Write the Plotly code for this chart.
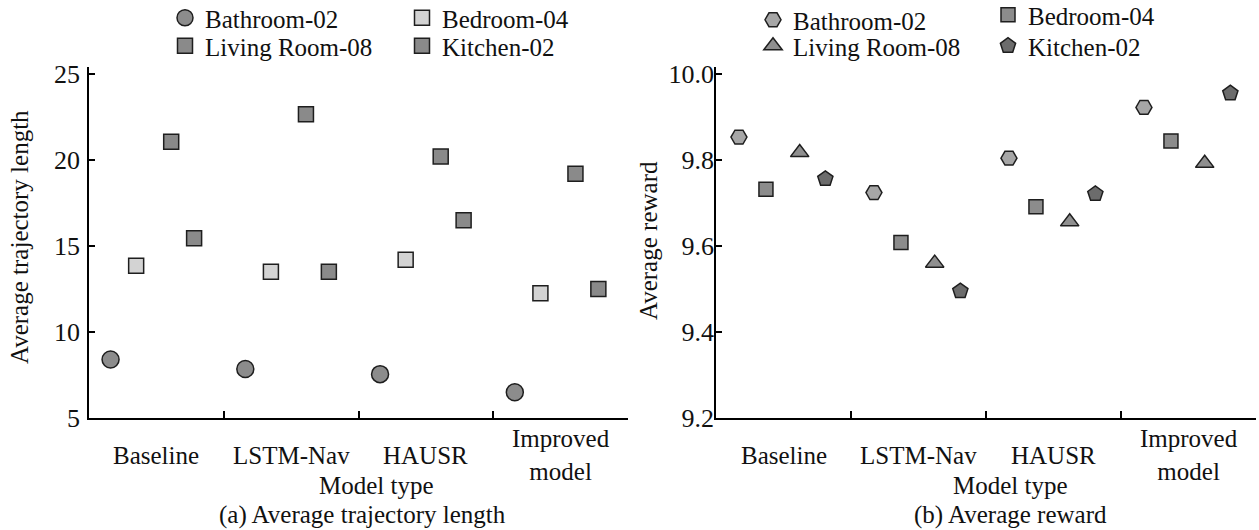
import plotly.graph_objects as go

# ---------------- data ----------------
models = ["Baseline", "LSTM-Nav", "HAUSR", "Improved<br>model"]
series = ["Bathroom-02", "Bedroom-04", "Living Room-08", "Kitchen-02"]

traj_bathroom = [8.4, 7.85, 7.55, 6.5]
traj_bedroom = [13.85, 13.5, 14.2, 12.25]
traj_living = [21.05, 22.65, 20.2, 19.2]
traj_kitchen = [15.45, 13.5, 16.5, 12.5]

rew_bathroom = [9.853, 9.724, 9.804, 9.922]
rew_bedroom = [9.732, 9.608, 9.691, 9.844]
rew_living = [9.817, 9.560, 9.656, 9.792]
rew_kitchen = [9.756, 9.495, 9.721, 9.955]

left_ticks = [5, 10, 15, 20, 25]
right_ticks = [9.2, 9.4, 9.6, 9.8, 10.0]
right_ticktext = ["9.2", "9.4", "9.6", "9.8", "10.0"]

# ---------------- style ----------------
W, H = 1259, 530
FONT = "Liberation Serif"
FS = 25
TFS = 26
EDGE = "#1e1e1e"
TXT = "#111111"

left_off = [0.16, 0.35, 0.61, 0.78]
right_off = [0.17, 0.37, 0.62, 0.81]

left_style = [
    dict(symbol="circle", size=17, color="#8c8c8c"),
    dict(symbol="square", size=15, color="#d3d3d3"),
    dict(symbol="square", size=15, color="#8a8a8a"),
    dict(symbol="square", size=15, color="#8a8a8a"),
]
right_style = [
    dict(symbol="hexagon2", size=16, color="#a6a6a6"),
    dict(symbol="square", size=14, color="#8c8c8c"),
    dict(symbol="triangle-up", size=16, color="#8f8f8f"),
    dict(symbol="pentagon", size=16, color="#6c6c6c"),
]

# legend item text start / centre line (px)
left_leg_pos = [(205, 18), (442, 18), (205, 46), (442, 46)]
right_leg_pos = [(793, 20), (1028, 15), (793, 46), (1028, 46)]


def px(xp):
    return xp / W


def py(yp):
    return 1 - yp / H


fig = go.Figure()

left_data = [traj_bathroom, traj_bedroom, traj_living, traj_kitchen]
right_data = [rew_bathroom, rew_bedroom, rew_living, rew_kitchen]

for k, (name, vals) in enumerate(zip(series, left_data)):
    st = left_style[k]
    fig.add_trace(go.Scatter(
        x=[i + left_off[k] for i in range(len(models))], y=vals,
        mode="markers", name=name, xaxis="x", yaxis="y", showlegend=True,
        legend="legend" if k == 0 else f"legend{k + 1}",
        marker=dict(symbol=st["symbol"], size=st["size"], color=st["color"],
                    line=dict(color=EDGE, width=1.5)),
    ))

for k, (name, vals) in enumerate(zip(series, right_data)):
    st = right_style[k]
    fig.add_trace(go.Scatter(
        x=[i + right_off[k] for i in range(len(models))], y=vals,
        mode="markers", name=name, xaxis="x2", yaxis="y2", showlegend=True,
        legend=f"legend{k + 5}",
        marker=dict(symbol=st["symbol"], size=st["size"], color=st["color"],
                    line=dict(color=EDGE, width=1.5)),
    ))

axis_common = dict(showline=True, linecolor="black", linewidth=1.5, showgrid=False,
                   zeroline=False, ticks="inside", tickcolor="black", tickwidth=1.5,
                   automargin=False)

ydom = [py(418), py(67)]
xd1 = [px(89), px(628)]
xd2 = [px(716), px(1256)]

layout = dict(
    width=W, height=H, margin=dict(l=0, r=0, t=0, b=0, autoexpand=False),
    paper_bgcolor="white", plot_bgcolor="white", showlegend=True,
    font=dict(family=FONT, size=FS, color=TXT),
    xaxis=dict(domain=xd1, range=[0, 4], tickvals=[0, 1, 2, 3, 4], ticklen=7,
               showticklabels=False, anchor="y", **axis_common),
    yaxis=dict(domain=ydom, range=[5, 25.4], tickvals=left_ticks, ticklen=6,
               ticklabelstandoff=2, tickfont=dict(family=FONT, size=TFS, color=TXT),
               anchor="x", **axis_common),
    xaxis2=dict(domain=xd2, range=[0, 4], tickvals=[0, 1, 2, 3, 4], ticklen=7,
                showticklabels=False, anchor="y2", **axis_common),
    yaxis2=dict(domain=ydom, range=[9.2, 10.016], tickvals=right_ticks,
                ticktext=right_ticktext, ticklen=6, ticklabelstandoff=-5,
                tickfont=dict(family=FONT, size=TFS, color=TXT),
                anchor="x2", **axis_common),
)

for k in range(8):
    key = "legend" if k == 0 else f"legend{k + 1}"
    tx, ty = (left_leg_pos + right_leg_pos)[k]
    layout[key] = dict(x=px(tx - 40), y=py(ty), xanchor="left", yanchor="middle",
                       bgcolor="rgba(0,0,0,0)", borderwidth=0, visible=True,
                       font=dict(family=FONT, size=FS, color=TXT),
                       itemsizing="trace")

fig.update_layout(**layout)

ann = []
for xa in ["x", "x2"]:
    for i, m in enumerate(models):
        ann.append(dict(x=i + 0.5, y=py(455), xref=xa, yref="paper", text=m,
                        showarrow=False, xanchor="center", yanchor="middle"))

ann += [
    dict(x=px(376), y=py(485), xref="paper", yref="paper", text="Model type",
         showarrow=False, xanchor="center", yanchor="middle"),
    dict(x=px(362), y=py(515), xref="paper", yref="paper",
         text="(a) Average trajectory length", showarrow=False,
         xanchor="center", yanchor="middle"),
    dict(x=px(1011), y=py(485), xref="paper", yref="paper", text="Model type",
         showarrow=False, xanchor="center", yanchor="middle"),
    dict(x=px(1010), y=py(515), xref="paper", yref="paper",
         text="(b) Average reward", showarrow=False,
         xanchor="center", yanchor="middle"),
    dict(x=px(19), y=py(237), xref="paper", yref="paper",
         text="Average trajectory length", textangle=-90, showarrow=False,
         xanchor="center", yanchor="middle"),
    dict(x=px(648), y=py(240), xref="paper", yref="paper",
         text="Average reward", textangle=-90, showarrow=False,
         xanchor="center", yanchor="middle"),
]
for a in ann:
    a["font"] = dict(family=FONT, size=FS, color=TXT)
fig.update_layout(annotations=ann)

fig.write_html("out.html")
